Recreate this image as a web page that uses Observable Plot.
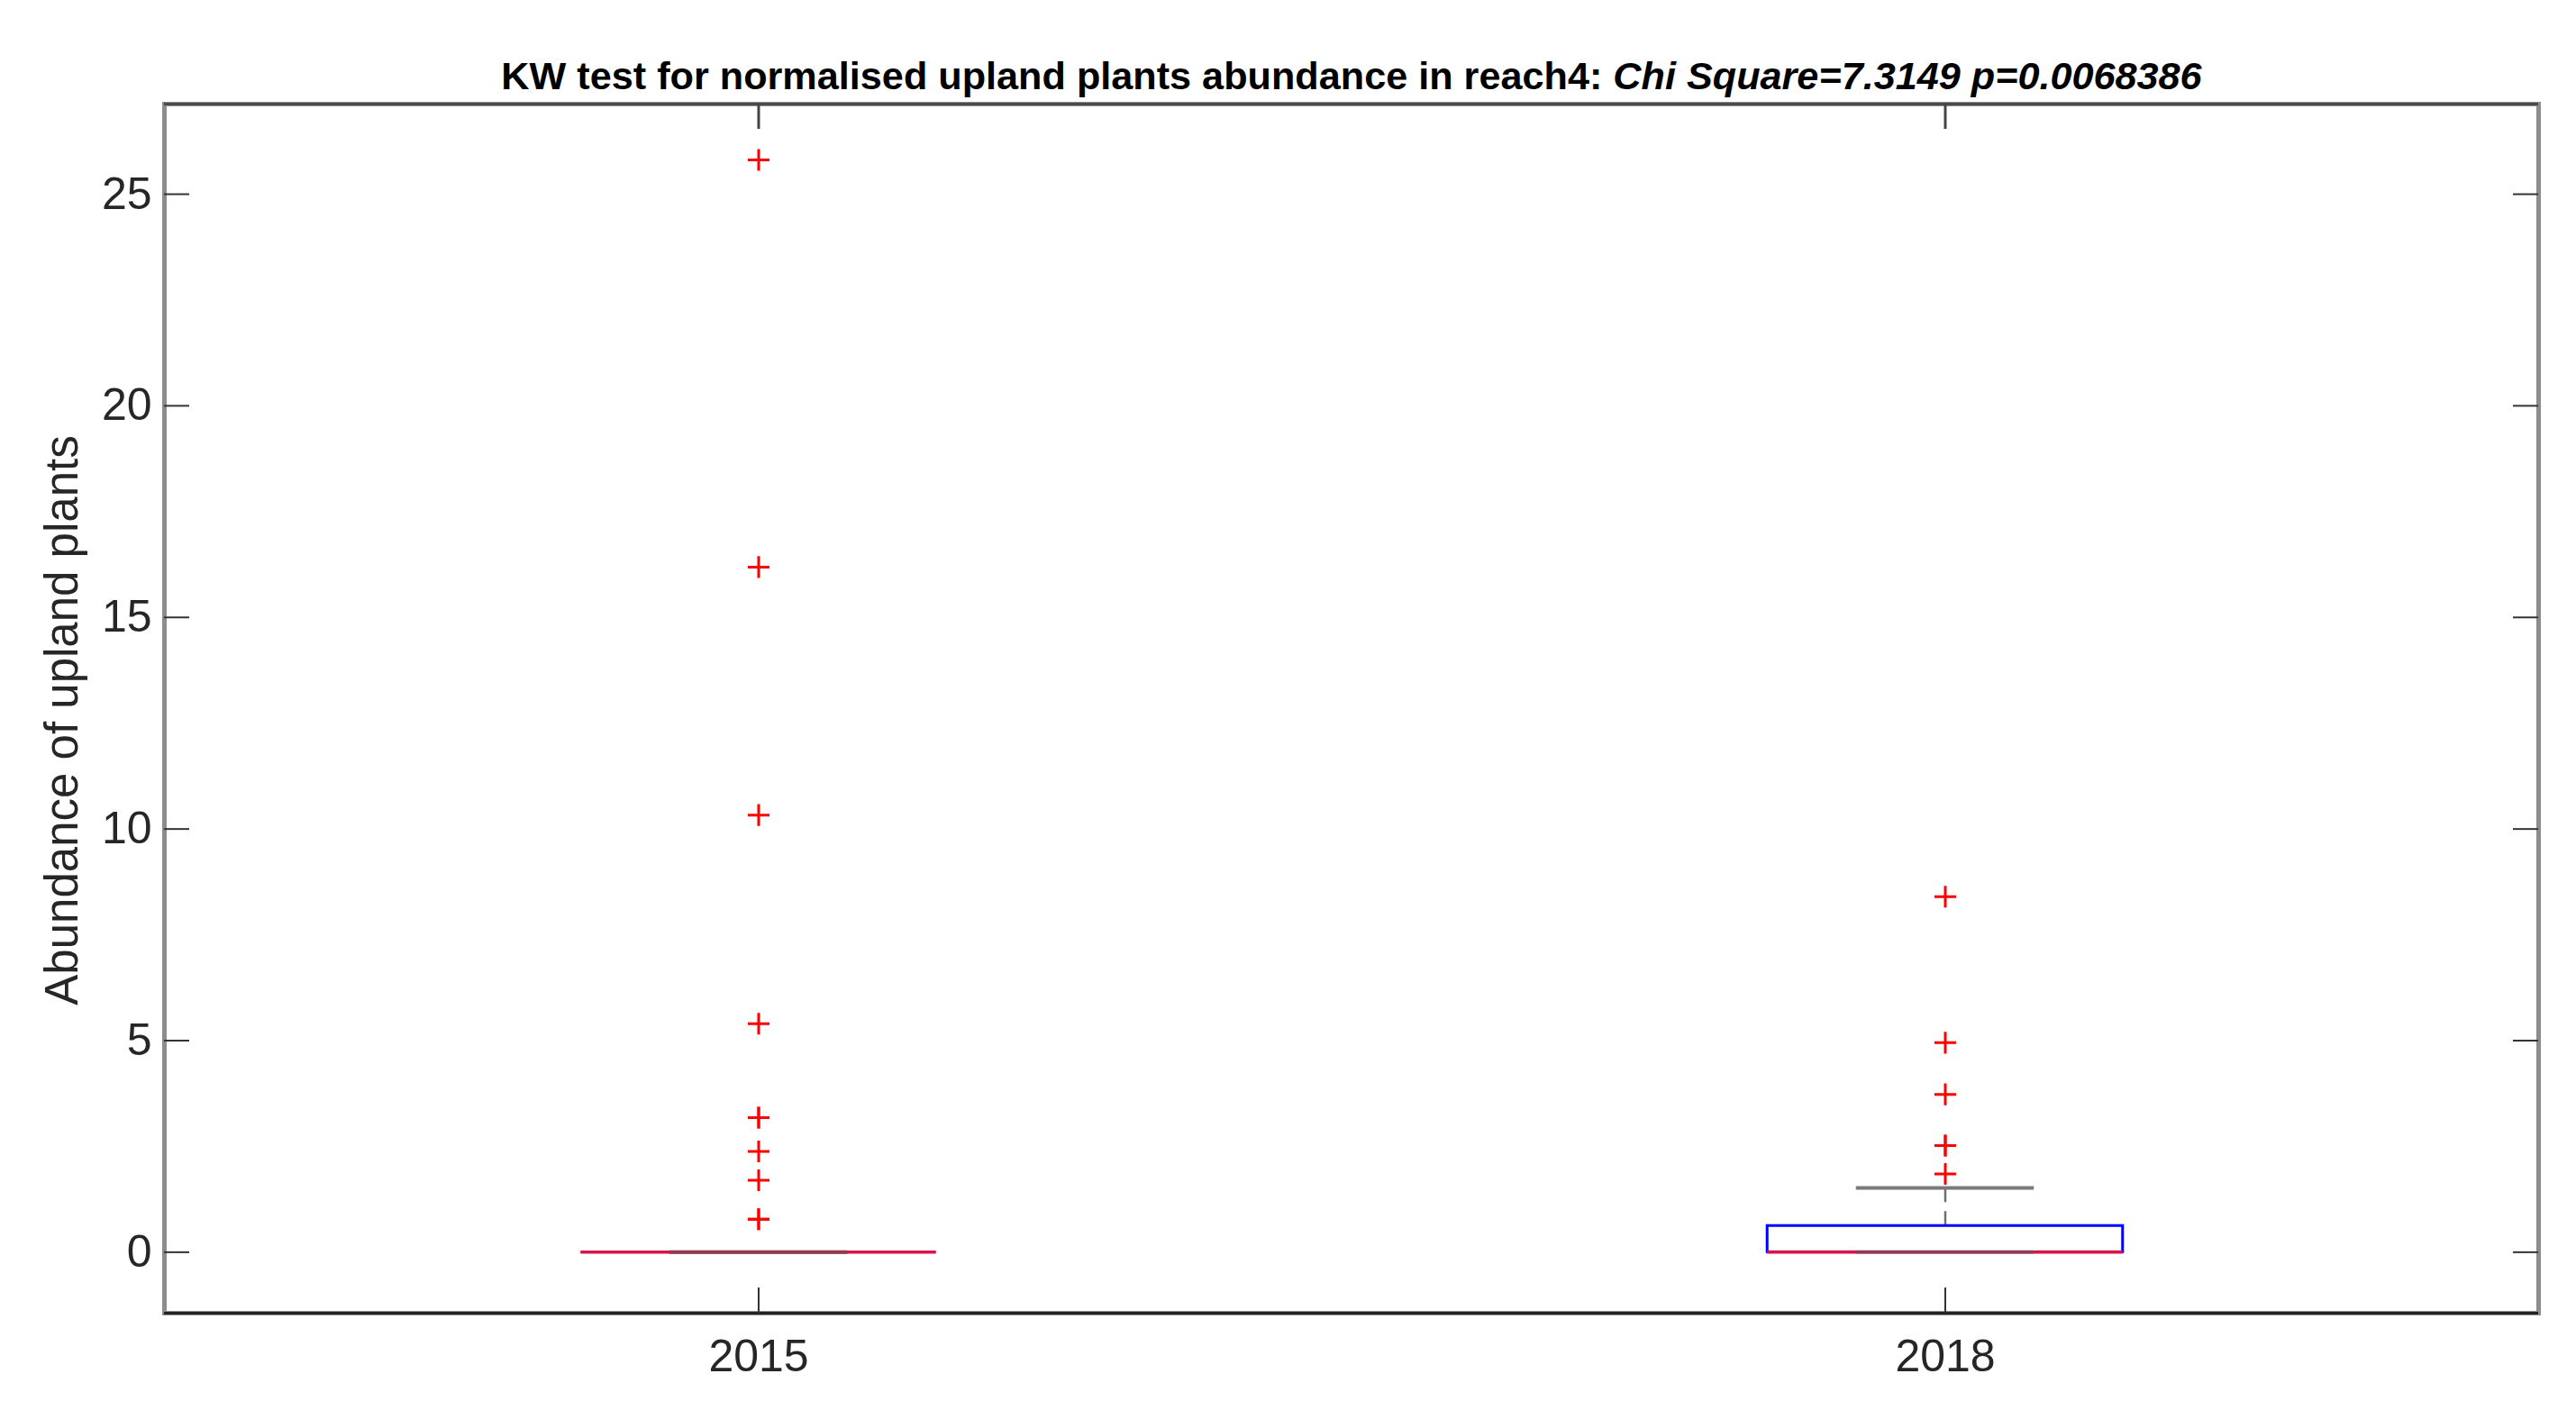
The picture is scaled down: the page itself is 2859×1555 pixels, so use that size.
<!DOCTYPE html>
<html>
<head>
<meta charset="utf-8">
<script src="https://cdn.jsdelivr.net/npm/d3@7"></script>
<script src="https://cdn.jsdelivr.net/npm/@observablehq/plot@0.6"></script>
<style>
  html, body { margin: 0; padding: 0; background: #ffffff; }
  #wrap { width: 2859px; }
  #title { position: relative; width: 2859px; height: 103px; }
  #title span.t {
    position: absolute; left: 1500px; top: 84px; white-space: nowrap;
    font-family: "Liberation Sans", Arial, sans-serif; font-weight: bold; font-size: 43px;
    line-height: 1; color: #000; transform-origin: 50% 50%;
  }
</style>
</head>
<body>
<div id="wrap">
  <div id="title"><span class="t" id="tt">KW test for normalised upland plants abundance in reach4: <i>Chi Square=7.3149 p=0.0068386</i></span></div>
  <div id="chart"></div>
</div>
<script>
// ---- data ----
const categories = ["2015", "2018"];
const q1 = [0, 0];
const median = [0, 0];
const q3 = [0, 0.62];
const lowerWhisker = [0, 0];
const upperWhisker = [0, 1.52];
const outliers2015 = [25.81, 16.19, 10.33, 5.40, 3.18, 3.18, 2.38, 1.70, 0.78, 0.78];
const outliers2018 = [8.40, 4.95, 3.73, 2.52, 2.52, 1.85];
const yTicks = [0, 5, 10, 15, 20, 25];
const yDomain = [-1.44, 27.13];
const yLabel = "Abundance of upland plants";

// ---- tables built from the arrays ----
const boxes = categories.map((c, i) => ({
  cat: c, q1: q1[i], median: median[i], q3: q3[i], lower: lowerWhisker[i], upper: upperWhisker[i]
}));
const outlierRows = [
  ...outliers2015.map(v => ({cat: categories[0], value: v})),
  ...outliers2018.map(v => ({cat: categories[1], value: v}))
];

// ---- layout ----
const W = 2859, H = 1452;
const mL = 182, mR = 42, mT = 12, mB = 98;
const frameW = W - mL - mR, frameH = H - mT - mB;
const bandW = frameW / categories.length;
const boxInset = (bandW - 395) / 2;
const capInset = (bandW - 198) / 2;
const tickLen = 28;

const chart = Plot.plot({
  width: W, height: H,
  marginLeft: mL, marginRight: mR, marginTop: mT, marginBottom: mB,
  style: {fontFamily: "'Liberation Sans', Arial, sans-serif", color: "#262626", background: "#ffffff"},
  x: {type: "band", domain: categories, padding: 0, label: null},
  y: {domain: yDomain, label: null},
  marks: [
    Plot.frame({stroke: "#8c8c8c", strokeWidth: 5}),
    Plot.ruleY([yDomain[1]], {stroke: "#4a4a4a", strokeWidth: 3}),
    Plot.ruleY([yDomain[0]], {stroke: "#222222", strokeWidth: 3}),
    // inward ticks
    Plot.ruleY(yTicks, {stroke: "#333333", strokeWidth: 2, insetRight: frameW - tickLen}),
    Plot.ruleY(yTicks, {stroke: "#333333", strokeWidth: 2, insetLeft: frameW - tickLen}),
    Plot.ruleX(categories, {stroke: "#333333", strokeWidth: 2, insetTop: frameH - tickLen}),
    Plot.ruleX(categories, {stroke: "#444444", strokeWidth: 3, insetBottom: frameH - tickLen}),
    Plot.axisY({ticks: yTicks, tickSize: 0, tickPadding: 14, fontSize: 50, label: null}),
    Plot.axisX({tickSize: 0, tickPadding: 29, fontSize: 50, label: null}),
    // whiskers
    Plot.ruleX(boxes, {x: "cat", y1: "q3", y2: "upper", stroke: "#6e6e6e", strokeWidth: 2.5, strokeDasharray: "16,10"}),
    Plot.ruleX(boxes, {x: "cat", y1: "q1", y2: "lower", stroke: "#6e6e6e", strokeWidth: 2.5, strokeDasharray: "16,10"}),
    Plot.tickY(boxes, {x: "cat", y: "upper", stroke: "#7a7a7a", strokeWidth: 4, insetLeft: capInset, insetRight: capInset}),
    // box
    Plot.barY(boxes, {x: "cat", y1: "q1", y2: "q3", fill: "none", stroke: "#0000ff", strokeWidth: 3, insetLeft: boxInset, insetRight: boxInset}),
    // median
    Plot.tickY(boxes, {x: "cat", y: "median", stroke: "#d8144a", strokeWidth: 3.5, insetLeft: boxInset, insetRight: boxInset}),
    Plot.tickY(boxes, {x: "cat", y: "lower", stroke: "#5a5a5a", strokeOpacity: 0.5, strokeWidth: 4, insetLeft: capInset, insetRight: capInset}),
    // outliers
    Plot.dot(outlierRows, {x: "cat", y: "value", symbol: "plus", r: 7.8, stroke: "#ff0000", strokeWidth: 3}),
    // y label
    Plot.text([yLabel], {frameAnchor: "left", textAnchor: "middle", rotate: -90, dx: -113, dy: 13, fontSize: 51, fill: "#262626"})
  ]
});
document.getElementById("chart").appendChild(chart);

// fit title width to the reference's width
function fitTitle() {
  const t = document.getElementById("tt");
  const w = t.offsetWidth;
  const s = 1887 / w;
  t.style.transform = `translate(-50%, -50%) scaleX(${s})`;
}
fitTitle();
if (document.fonts && document.fonts.ready) document.fonts.ready.then(fitTitle);
</script>
</body>
</html>
